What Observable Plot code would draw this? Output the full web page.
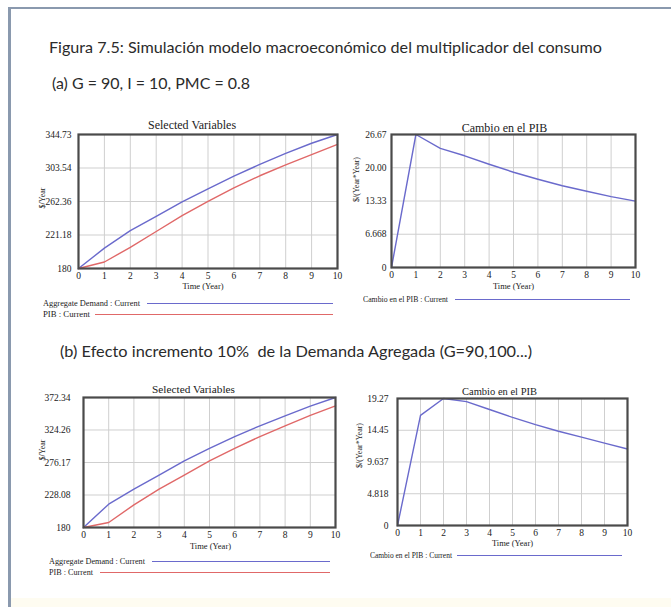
<!DOCTYPE html>
<html><head><meta charset="utf-8">
<script src="https://cdn.jsdelivr.net/npm/d3@7"></script>
<script src="https://cdn.jsdelivr.net/npm/@observablehq/plot@0.6"></script>
<style>
html,body{margin:0;padding:0;background:#fff;}
#page{position:relative;width:671px;height:607px;overflow:hidden;background:#fff;}
.abs{position:absolute;white-space:pre;}
.head{font-family:Lato,'Open Sans',sans-serif;color:#2b2b2b;transform-origin:0 50%;}
.leg{font-family:'Liberation Serif','Times New Roman',serif;font-size:8.5px;color:#222;line-height:10px;transform-origin:0 50%;}
</style></head>
<body><div id="page"></div>
<script>
// ---- data ----
const years = [0,1,2,3,4,5,6,7,8,9,10];
const adA = [180, 205, 226.5, 244, 262, 278, 293.5, 308, 321.5, 334, 344.73];
const pibA = [180, 188, 206, 225.5, 245, 262.5, 279, 294, 307.5, 320, 332.5];
const cambioA = [0, 26.67, 23.9, 22.4, 20.7, 19.1, 17.7, 16.4, 15.3, 14.2, 13.3];
const adB = [180, 214.5, 236.7, 257.4, 278.6, 297, 314.6, 330.4, 345.2, 359.5, 372.34];
const pibB = [180, 187.4, 213.5, 236.7, 257.4, 278.6, 297, 314.6, 330.4, 346, 360];
const cambioB = [0, 16.7, 19.27, 18.8, 17.6, 16.4, 15.3, 14.3, 13.4, 12.5, 11.6];
const ticksA1 = [180, 221.18, 262.36, 303.54, 344.73];
const labelsA1 = ["180", "221.18", "262.36", "303.54", "344.73"];
const ticksA2 = [0, 6.668, 13.33, 20.00, 26.67];
const labelsA2 = ["0", "6.668", "13.33", "20.00", "26.67"];
const ticksB1 = [180, 228.08, 276.17, 324.26, 372.34];
const labelsB1 = ["180", "228.08", "276.17", "324.26", "372.34"];
const ticksB2 = [0, 4.818, 9.637, 14.45, 19.27];
const labelsB2 = ["0", "4.818", "9.637", "14.45", "19.27"];
const figTitle = "Figura 7.5: Simulación modelo macroeconómico del multiplicador del consumo";
const subA = "(a) G = 90, I = 10, PMC = 0.8";
const subB = "(b) Efecto incremento 10%  de la Demanda Agregada (G=90,100...)";
const BLUE = "#6a6acc", RED = "#e06868";

const page = document.getElementById("page");

// frame of the figure
const fr = document.createElement("div");
fr.className = "abs";
Object.assign(fr.style, {left:"8px", top:"7px", width:"700px", height:"620px",
  borderLeft:"3px solid #8a99ae", borderTop:"2px solid #8a99ae"});
page.appendChild(fr);
const band = document.createElement("div");
band.className = "abs";
Object.assign(band.style, {left:"11px", top:"598px", width:"660px", height:"9px", background:"#fefcf1"});
page.appendChild(band);

function heading(text, x, yc, size, targetW) {
  const d = document.createElement("div");
  d.className = "abs head";
  d.textContent = text;
  Object.assign(d.style, {left: x+"px", top: (yc - size*0.6)+"px", fontSize: size+"px", lineHeight: (size*1.2)+"px"});
  page.appendChild(d);
  const w = d.getBoundingClientRect().width;
  d.style.transform = `scaleX(${targetW / w})`;
}
heading(figTitle, 49, 47, 16, 553);
heading(subA, 52, 83, 16, 198);
heading(subB, 60, 351, 16, 472);

function chart(o) {
  const rows = o.series.map(s => years.map((t, i) => ({t, v: s.values[i], k: s.name})));
  const fmt = d => o.labels[o.ticks.indexOf(d)];
  const p = Plot.plot({
    width: o.W, height: o.H,
    marginLeft: o.mL, marginRight: o.mR, marginTop: o.mT, marginBottom: o.mB,
    style: {fontFamily: "'Liberation Serif','Times New Roman',serif", fontSize: "9.5px", color: "#222", background: "transparent", overflow: "visible"},
    x: {domain: [0, 10], ticks: years, tickSize: 0, tickPadding: o.xPad, label: null},
    y: {domain: o.yDomain, ticks: o.ticks, tickFormat: fmt, tickSize: 0, tickPadding: o.yPad, label: null},
    marks: [
      Plot.ruleX(years, {x: d => d, stroke: "#cfcfcf", strokeWidth: 1}),
      Plot.ruleY(o.ticks, {y: d => d, stroke: "#cfcfcf", strokeWidth: 1}),
      ...rows.map((r, i) => Plot.line(r, {x: "t", y: "v", stroke: o.series[i].color, strokeWidth: 1.4})),
      Plot.frame({stroke: "#4a4a4a", strokeWidth: 2.2}),
      Plot.text([o.title], {text: d => d, frameAnchor: "top", dx: o.tdx, dy: o.tdy, fontSize: o.tSize, fill: "#222"}),
      Plot.text(["Time (Year)"], {text: d => d, frameAnchor: "bottom", dx: o.xdx, dy: o.xdy, fontSize: 8.5, fill: "#222"}),
      Plot.text([o.ylab], {text: d => d, frameAnchor: "left", dx: o.ydx, dy: o.ydy, rotate: -90, fontSize: 8, fill: "#222"})
    ]
  });
  p.style.position = "absolute";
  p.style.left = o.left + "px";
  p.style.top = o.top + "px";
  page.appendChild(p);
}

chart({left: 20, top: 110, W: 330, H: 185, mL: 58, mR: 13, mT: 24, mB: 27,
  yDomain: [180, 344.73], ticks: ticksA1, labels: labelsA1, xPad: 3.5, yPad: 7,
  series: [{name: "Aggregate Demand", values: adA, color: BLUE}, {name: "PIB", values: pibA, color: RED}],
  title: "Selected Variables", tSize: 12, tdx: -16, tdy: -14,
  xdx: -5, xdy: 20.5, ylab: "$/Year", ydx: -36, ydy: 7});

chart({left: 340, top: 110, W: 330, H: 185, mL: 51, mR: 35, mT: 24, mB: 28,
  yDomain: [0, 26.67], ticks: ticksA2, labels: labelsA2, xPad: 3.5, yPad: 5,
  series: [{name: "Cambio en el PIB", values: cambioA, color: BLUE}],
  title: "Cambio en el PIB", tSize: 12, tdx: -9, tdy: -11,
  xdx: 0, xdy: 21, ylab: "$/(Year*Year)", ydx: -35, ydy: 1});

chart({left: 20, top: 372, W: 330, H: 185, mL: 63, mR: 15, mT: 25, mB: 30,
  yDomain: [180, 372.34], ticks: ticksB1, labels: labelsB1, xPad: 3.5, yPad: 13,
  series: [{name: "Aggregate Demand", values: adB, color: BLUE}, {name: "PIB", values: pibB, color: RED}],
  title: "Selected Variables", tSize: 11.3, tdx: -16, tdy: -13,
  xdx: 1, xdy: 21, ylab: "$/Year", ydx: -41, ydy: -2});

chart({left: 340, top: 372, W: 330, H: 185, mL: 57, mR: 43, mT: 26, mB: 32,
  yDomain: [0, 19.27], ticks: ticksB2, labels: labelsB2, xPad: 3.5, yPad: 9,
  series: [{name: "Cambio en el PIB", values: cambioB, color: BLUE}],
  title: "Cambio en el PIB", tSize: 10.5, tdx: -13, tdy: -11,
  xdx: 0, xdy: 20.5, ylab: "$/(Year*Year)", ydx: -38, ydy: 6});

// legends
function legend(text, x, yc, targetW, x1, x2, color) {
  const t = document.createElement("div");
  t.className = "abs leg";
  t.textContent = text;
  Object.assign(t.style, {left: x+"px", top: (yc-5)+"px"});
  page.appendChild(t);
  const w = t.getBoundingClientRect().width;
  t.style.transform = `scaleX(${targetW / w})`;
  const l = document.createElement("div");
  l.className = "abs";
  Object.assign(l.style, {left: x1+"px", top: yc+"px", width: (x2-x1)+"px", height: "0", borderTop: "1px solid "+color});
  page.appendChild(l);
}
legend("Aggregate Demand : Current", 43, 303, 97, 147, 333, BLUE);
legend("PIB : Current", 43, 314, 47, 95, 333, RED);
legend("Cambio en el PIB : Current", 363, 299, 85, 455, 630, BLUE);
legend("Aggregate Demand : Current", 49, 561, 96, 152, 330, BLUE);
legend("PIB : Current", 49, 572, 44, 100, 330, RED);
legend("Cambio en el PIB : Current", 370, 555, 82, 457, 622, BLUE);
</script>
</body></html>
